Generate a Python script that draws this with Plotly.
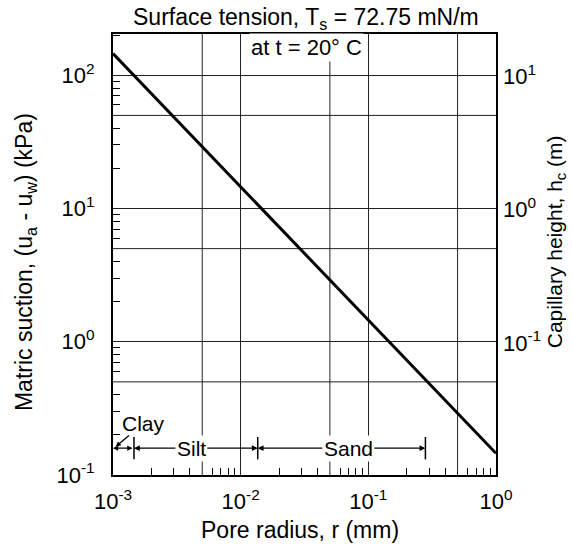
import numpy as np
import plotly.graph_objects as go

# ---- data ----
pore_radius_mm = [0.001, 1.0]
matric_suction_kpa = [145.5, 0.1455]

x_tick_vals = [1e-3, 1e-2, 1e-1, 1e0]
x_tick_text = ["10<sup>-3</sup>", "10<sup>-2</sup>", "10<sup>-1</sup>", "10<sup>0</sup>"]
x_half_grid = [5e-3, 5e-2, 5e-1]

y_tick_vals = [1e-1, 1e0, 1e1, 1e2]
y_tick_text = ["10<sup>-1</sup>", "10<sup>0</sup>", "10<sup>1</sup>", "10<sup>2</sup>"]
y_half_grid = [0.5, 5, 50]

y2_tick_vals = [1e-2, 1e-1, 1e0, 1e1]
y2_tick_text = ["10<sup>-2</sup>", "10<sup>-1</sup>", "10<sup>0</sup>", "10<sup>1</sup>"]

soil_classes = ["Clay", "Silt", "Sand"]
soil_bounds_mm = [0.001, 0.00146, 0.0136, 0.28]
soil_label_mm = [0.00172, 0.00411, 0.0697]
soil_bracket_kpa = 0.159
clay_label_kpa = 0.244
clay_pointer = (0.00105, 0.163)

FONT = "Liberation Sans, Arial, sans-serif"
lg = np.log10


def minor_vals(lo_exp, hi_exp):
    vals = []
    for e in range(lo_exp, hi_exp):
        for m in [2, 3, 4, 6, 7, 8, 9]:
            vals.append(m * 10.0 ** e)
    return vals


fig = go.Figure()
fig.add_trace(go.Scatter(x=pore_radius_mm, y=matric_suction_kpa, mode="lines",
                         line=dict(color="black", width=3), showlegend=False,
                         hoverinfo="skip"))
fig.add_trace(go.Scatter(x=soil_bounds_mm[1:], y=[soil_bracket_kpa] * 3, mode="markers",
                         marker=dict(symbol="line-ns", size=16, color="black",
                                     line=dict(color="black", width=1.5)),
                         showlegend=False, hoverinfo="skip"))
fig.add_trace(go.Scatter(x=[1e-2], y=[1.0], yaxis="y2", mode="markers",
                         marker=dict(opacity=0), showlegend=False, hoverinfo="skip"))

# half-decade grid lines (shapes on log axes take data values in plotly 6)
shapes = []
for v in x_half_grid:
    shapes.append(dict(type="line", xref="x", yref="paper", x0=v, x1=v, y0=0, y1=1,
                       line=dict(color="#222", width=1), layer="below"))
for v in y_half_grid:
    shapes.append(dict(type="line", xref="paper", yref="y", x0=0, x1=1, y0=v, y1=v,
                       line=dict(color="#222", width=1), layer="below"))

ann = []
yb = lg(soil_bracket_kpa)
ann.append(dict(x=lg(soil_bounds_mm[0]), y=yb, ax=lg(soil_bounds_mm[1]), ay=yb,
                xref="x", yref="y", axref="x", ayref="y", text="", showarrow=True,
                arrowside="end+start", arrowhead=2, arrowsize=0.8, arrowwidth=1.3,
                arrowcolor="black"))
ann.append(dict(x=lg(clay_pointer[0]), y=lg(clay_pointer[1]), ax=lg(soil_label_mm[0]),
                ay=lg(clay_label_kpa), xref="x", yref="y", axref="x", ayref="y",
                text=soil_classes[0], showarrow=True, arrowhead=2, arrowsize=0.8,
                arrowwidth=1.3, arrowcolor="black", bgcolor="white", borderpad=0,
                font=dict(family=FONT, size=21, color="black")))
for i in (1, 2):
    for j, end in enumerate((soil_bounds_mm[i], soil_bounds_mm[i + 1])):
        ann.append(dict(x=lg(end), y=yb, ax=lg(soil_label_mm[i]), ay=yb,
                        xref="x", yref="y", axref="x", ayref="y",
                        text=soil_classes[i], showarrow=True, arrowhead=2,
                        arrowsize=0.9, arrowwidth=1.3, arrowcolor="black",
                        bgcolor="white" if j == 0 else "rgba(0,0,0,0)", borderpad=1,
                        font=dict(family=FONT, size=21,
                                  color="black" if j == 0 else "rgba(0,0,0,0)")))

# titles
ann.append(dict(x=0.504, y=1.036, xref="paper", yref="paper", yanchor="middle",
                text="Surface tension, T<sub>s</sub> = 72.75 mN/m", showarrow=False,
                font=dict(family=FONT, size=23, color="black")))
ann.append(dict(x=0.504, y=0.970, xref="paper", yref="paper", yanchor="middle",
                text="at t = 20° C", showarrow=False, bgcolor="white", borderpad=1,
                font=dict(family=FONT, size=22, color="black")))
# axis titles
ann.append(dict(x=0.488, y=-0.125, xref="paper", yref="paper", xanchor="center",
                yanchor="middle", text="Pore radius, r (mm)", showarrow=False,
                font=dict(family=FONT, size=23, color="black")))
ann.append(dict(x=-0.227, y=0.483, xref="paper", yref="paper", xanchor="center",
                yanchor="middle", textangle=-90,
                text="Matric suction, (u<sub>a</sub> - u<sub>w</sub>) (kPa)",
                showarrow=False, font=dict(family=FONT, size=23, color="black")))
ann.append(dict(x=1.157, y=0.528, xref="paper", yref="paper", xanchor="center",
                yanchor="middle", textangle=-90,
                text="Capillary height, h<sub>c</sub> (m)",
                showarrow=False, font=dict(family=FONT, size=21, color="black")))

fig.update_layout(
    width=572, height=545,
    margin=dict(l=113, r=76, t=34, b=70),
    paper_bgcolor="white", plot_bgcolor="white",
    font=dict(family=FONT, size=22, color="black"),
    showlegend=False,
    annotations=ann,
    shapes=shapes,
    xaxis=dict(type="log", range=[-3, 0], tickvals=x_tick_vals, ticktext=x_tick_text,
               ticks="", showgrid=True, gridcolor="#222", gridwidth=1,
               showline=True, linecolor="black", linewidth=2, mirror=True,
               zeroline=False, ticklabelstandoff=6,
               tickfont=dict(family=FONT, size=22, color="black"),
               minor=dict(tickvals=minor_vals(-3, 0), ticks="inside", ticklen=7,
                          tickcolor="black", tickwidth=1.3, showgrid=False)),
    yaxis=dict(type="log", range=[-1, 2.31], tickvals=y_tick_vals, ticktext=y_tick_text,
               ticks="", showgrid=True, gridcolor="#222", gridwidth=1,
               showline=True, linecolor="black", linewidth=2, mirror=True,
               zeroline=False, ticklabelstandoff=12,
               tickfont=dict(family=FONT, size=22, color="black"),
               minor=dict(tickvals=minor_vals(-1, 3), ticks="inside", ticklen=7,
                          tickcolor="black", tickwidth=1.3, showgrid=False)),
    yaxis2=dict(type="log", overlaying="y", side="right",
                range=[-1 - lg(9.81), 2.31 - lg(9.81)], tickvals=y2_tick_vals,
                ticktext=y2_tick_text, ticks="", showgrid=False, showline=False,
                zeroline=False, ticklabelstandoff=6,
                tickfont=dict(family=FONT, size=22, color="black")),
)

fig.write_html("out.html")
